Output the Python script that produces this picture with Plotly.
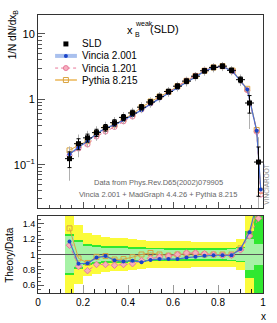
import plotly.graph_objects as go

# ---------------- data ----------------
bin_centers = [0.14, 0.18, 0.22, 0.26, 0.30, 0.34, 0.38, 0.42, 0.46, 0.50, 0.54,
               0.58, 0.62, 0.66, 0.70, 0.74, 0.78, 0.82, 0.86, 0.90, 0.94, 0.98]
bin_width = 0.04
sld = [0.124, 0.21, 0.258, 0.31, 0.37, 0.44, 0.53, 0.62, 0.76, 0.91, 1.1,
       1.32, 1.59, 1.9, 2.26, 2.74, 3.08, 3.22, 2.78, 2.0, 0.88, 0.11]
err_tot = [0.27, 0.19, 0.14, 0.125, 0.115, 0.11, 0.105, 0.10, 0.095, 0.09, 0.09,
           0.085, 0.085, 0.085, 0.08, 0.08, 0.08, 0.08, 0.08, 0.10, 0.30, 0.70]
err_stat = [0.245, 0.165, 0.115, 0.10, 0.09, 0.085, 0.08, 0.075, 0.07, 0.065, 0.065,
            0.06, 0.06, 0.06, 0.06, 0.06, 0.06, 0.06, 0.065, 0.08, 0.20, 0.13]

mc_x = [0.14, 0.18, 0.22, 0.26, 0.30, 0.34, 0.38, 0.42, 0.46, 0.50, 0.54,
        0.58, 0.62, 0.66, 0.70, 0.74, 0.78, 0.82, 0.865, 0.93, 0.972, 0.99]
vincia2 = [0.145, 0.185, 0.228, 0.298, 0.363, 0.407, 0.482, 0.570, 0.684, 0.846, 1.03,
           1.24, 1.49, 1.82, 2.19, 2.70, 3.05, 3.19, 2.67, 1.42, 0.33, 0.042]
vincia1 = [0.139, 0.177, 0.204, 0.270, 0.322, 0.378, 0.461, 0.546, 0.699, 0.865, 1.07,
           1.29, 1.59, 1.94, 2.31, 2.77, 3.08, 3.19, 2.70, 1.38, 0.32, 0.035]
pythia = [0.166, 0.20, 0.23, 0.30, 0.363, 0.411, 0.498, 0.598, 0.76, 0.928, 1.10,
          1.30, 1.59, 1.92, 2.28, 2.74, 3.08, 3.22, 2.75, 1.45, 0.34, 0.040]

ratio_vincia2 = [1.17, 0.88, 0.885, 0.96, 0.98, 0.925, 0.91, 0.92, 0.90, 0.93, 0.94,
                 0.94, 0.94, 0.96, 0.97, 0.985, 0.99, 0.99, 0.99, 1.07, 1.29, 1.75]
ratio_vincia1 = [1.12, 0.845, 0.79, 0.87, 0.87, 0.86, 0.87, 0.88, 0.92, 0.95, 0.97,
                 0.98, 1.0, 1.02, 1.02, 1.01, 1.0, 0.99, 0.99, 1.06, 1.24, 1.47]
ratio_pythia = [1.34, 0.95, 0.89, 0.97, 0.98, 0.935, 0.94, 0.965, 1.0, 1.02, 1.0,
                0.985, 1.0, 1.01, 1.01, 1.0, 1.0, 1.0, 1.0, 1.08, 1.27, 1.6]

series_names = ["SLD", "Vincia 2.001", "Vincia 1.201", "Pythia 8.215"]
ytick_vals = [0.1, 1, 10]
ytick_text = ["10<sup>\u22121</sup>", "1", "10"]

# ---------------- style ----------------
FONT = "Liberation Sans, Arial, sans-serif"
BLUE_L, BLUE_M = "#4a6fd0", "#1a44c8"
PINK = "#e8789a"
ORANGE = "#d9a440"
YELLOW, GREEN, LGREEN = "#fbfb3a", "#30e830", "#a6f2a6"

fig = go.Figure()

# ---- ratio bands ----
for mult, col, src in [(2, YELLOW, err_tot), (1, GREEN, err_tot), (1, LGREEN, err_stat)]:
    fig.add_trace(go.Bar(x=bin_centers, y=[2 * mult * e for e in src],
                         base=[1 - mult * e for e in src], width=bin_width,
                         marker=dict(color=col, line=dict(width=0)),
                         xaxis="x2", yaxis="y2", showlegend=False, hoverinfo="skip"))

# ---- reference line at ratio 1 (drawn as trace so it sits above bands, below curves) ----
fig.add_trace(go.Scatter(x=[0, 1], y=[1, 1], mode="lines",
                         line=dict(color="#555555", width=1),
                         xaxis="x2", yaxis="y2", showlegend=False))

# ---- ratio curves ----
fig.add_trace(go.Scatter(x=bin_centers, y=ratio_pythia, mode="lines+markers",
                         line=dict(color=ORANGE, width=1),
                         marker=dict(symbol="square-open", size=5, color=ORANGE, line=dict(width=1)),
                         xaxis="x2", yaxis="y2", showlegend=False))
fig.add_trace(go.Scatter(x=bin_centers, y=ratio_vincia1, mode="lines+markers",
                         line=dict(color=PINK, width=1, dash="dot"),
                         marker=dict(symbol="diamond", size=5, color="#f6b0b8",
                                     line=dict(width=1, color=PINK)),
                         xaxis="x2", yaxis="y2", showlegend=False))
fig.add_trace(go.Scatter(x=bin_centers, y=ratio_vincia2, mode="lines+markers",
                         line=dict(color=BLUE_L, width=1.2),
                         marker=dict(symbol="circle", size=4, color=BLUE_M),
                         xaxis="x2", yaxis="y2", showlegend=False))

# ---- main panel MC ----
fig.add_trace(go.Scatter(x=mc_x, y=pythia, mode="lines+markers",
                         line=dict(color=ORANGE, width=1),
                         marker=dict(symbol="square-open", size=5, color=ORANGE, line=dict(width=1)),
                         showlegend=False))
fig.add_trace(go.Scatter(x=mc_x, y=vincia1, mode="lines+markers",
                         line=dict(color=PINK, width=1, dash="dot"),
                         marker=dict(symbol="circle-open", size=5, color=PINK, line=dict(width=1)),
                         showlegend=False))
fig.add_trace(go.Scatter(x=mc_x, y=vincia2, mode="lines+markers",
                         line=dict(color=BLUE_L, width=1.2),
                         marker=dict(symbol="circle", size=4, color=BLUE_M),
                         showlegend=False))

# ---- data ----
fig.add_trace(go.Scatter(x=bin_centers, y=sld, mode="lines",
                         line=dict(width=0, color="rgba(0,0,0,0)"),
                         error_y=dict(type="data", array=[2 * e * v for e, v in zip(err_tot, sld)],
                                      color="#b0b0b0", thickness=1, width=0),
                         showlegend=False))
fig.add_trace(go.Scatter(x=bin_centers, y=sld, mode="markers",
                         marker=dict(symbol="square", size=5, color="black"),
                         error_y=dict(type="data", array=[e * v for e, v in zip(err_tot, sld)],
                                      color="black", thickness=1, width=2),
                         error_x=dict(type="constant", value=bin_width / 2,
                                      color="black", thickness=1, width=0),
                         showlegend=False))

# ---- manual legend on overlay axes ----
leg_y = [0.850, 0.788, 0.725, 0.663]
fig.add_trace(go.Scatter(x=[0.124], y=[leg_y[0]], mode="markers",
                         marker=dict(symbol="square", size=5, color="black"),
                         xaxis="x3", yaxis="y3", showlegend=False))
fig.add_trace(go.Scatter(x=[0.076, 0.173], y=[leg_y[1]] * 2, mode="lines",
                         line=dict(color="#a9c0ee", width=4),
                         xaxis="x3", yaxis="y3", showlegend=False))
fig.add_trace(go.Scatter(x=[0.124], y=[leg_y[1]], mode="markers",
                         marker=dict(symbol="circle", size=4, color=BLUE_M),
                         xaxis="x3", yaxis="y3", showlegend=False))
fig.add_trace(go.Scatter(x=[0.076, 0.173], y=[leg_y[2]] * 2, mode="lines",
                         line=dict(color=PINK, width=1, dash="dot"),
                         xaxis="x3", yaxis="y3", showlegend=False))
fig.add_trace(go.Scatter(x=[0.124], y=[leg_y[2]], mode="markers",
                         marker=dict(symbol="circle", size=5, color="#f6b0c0",
                                     line=dict(width=1, color=PINK)),
                         xaxis="x3", yaxis="y3", showlegend=False))
fig.add_trace(go.Scatter(x=[0.076, 0.173], y=[leg_y[3]] * 2, mode="lines",
                         line=dict(color="#f0c880", width=2),
                         xaxis="x3", yaxis="y3", showlegend=False))
fig.add_trace(go.Scatter(x=[0.124], y=[leg_y[3]], mode="markers",
                         marker=dict(symbol="square-open", size=5, color=ORANGE, line=dict(width=1)),
                         xaxis="x3", yaxis="y3", showlegend=False))

annotations = []
for name, yy in zip(series_names, leg_y):
    annotations.append(dict(x=0.187, y=yy, xref="x3", yref="y3", text=name, showarrow=False,
                            xanchor="left", yanchor="middle",
                            font=dict(family=FONT, size=10, color="black")))

# title pieces
annotations += [
    dict(x=0.388, y=0.946, xref="paper", yref="paper", text="x", showarrow=False,
         xanchor="left", yanchor="middle", font=dict(family=FONT, size=11, color="black")),
    dict(x=0.420, y=0.971, xref="paper", yref="paper", text="weak", showarrow=False,
         xanchor="left", yanchor="middle", font=dict(family=FONT, size=7, color="black")),
    dict(x=0.420, y=0.930, xref="paper", yref="paper", text="B", showarrow=False,
         xanchor="left", yanchor="middle", font=dict(family=FONT, size=7, color="black")),
    dict(x=0.490, y=0.950, xref="paper", yref="paper", text="(SLD)", showarrow=False,
         xanchor="left", yanchor="middle", font=dict(family=FONT, size=11, color="black")),
    dict(x=0.534, y=0.396, xref="paper", yref="paper",
         text="Data from Phys.Rev.D65(2002)079905", showarrow=False,
         xanchor="center", yanchor="middle", font=dict(family=FONT, size=7.5, color="#666666")),
    dict(x=0.534, y=0.353, xref="paper", yref="paper",
         text="Vincia 2.001 + MadGraph 4.4.26 + Pythia 8.215", showarrow=False,
         xanchor="center", yanchor="middle", font=dict(family=FONT, size=7.5, color="#666666")),
    dict(x=1.018, y=0.390, xref="paper", yref="paper", text="VINCIAROOT", showarrow=False,
         textangle=-90, xanchor="center", yanchor="middle",
         font=dict(family=FONT, size=6.5, color="#909090")),
    dict(x=-0.11, y=0.928, xref="paper", yref="paper", text="1/N dN/dx<sub>B</sub>",
         showarrow=False, textangle=-90, xanchor="center", yanchor="middle",
         font=dict(family=FONT, size=10, color="black")),
    dict(x=-0.125, y=0.137, xref="paper", yref="paper", text="Theory/Data",
         showarrow=False, textangle=-90, xanchor="center", yanchor="middle",
         font=dict(family=FONT, size=10, color="black")),
    dict(x=1.0, y=-0.058, xref="paper", yref="paper", text="x", showarrow=False,
         xanchor="center", yanchor="top", font=dict(family=FONT, size=10, color="black")),
]

axis_common = dict(showline=True, linecolor="#333333", linewidth=1, mirror=True,
                   showgrid=False, zeroline=False, ticks="inside")

fig.update_layout(
    width=277, height=323,
    margin=dict(l=38, r=14, t=15, b=30),
    paper_bgcolor="white", plot_bgcolor="white",
    barmode="overlay", bargap=0,
    showlegend=False, hovermode=False,
    annotations=annotations,
    xaxis=dict(**axis_common, domain=[0, 1], range=[0, 1], anchor="y",
               showticklabels=False, dtick=0.2, ticklen=6, tickcolor="#555",
               minor=dict(dtick=0.05, ticks="inside", ticklen=3, tickcolor="#555")),
    yaxis=dict(**axis_common, domain=[0.306, 1], type="log",
               range=[-1.66, 1.29], tickvals=ytick_vals, ticktext=ytick_text,
               ticklen=7, tickcolor="#555",
               tickfont=dict(family=FONT, size=11, color="black"),
               minor=dict(ticks="inside", ticklen=4, tickcolor="#555", dtick="D1")),
    xaxis2=dict(**axis_common, domain=[0, 1], range=[0, 1], anchor="y2",
                dtick=0.2, ticklen=8, tickcolor="#999",
                tickfont=dict(family=FONT, size=10, color="black"),
                minor=dict(dtick=0.05, ticks="inside", ticklen=4, tickcolor="#222")),
    yaxis2=dict(**axis_common, domain=[0, 0.277], range=[0.5, 1.5], anchor="x2",
                tickvals=[0.6, 0.8, 1.0, 1.2, 1.4], ticktext=["0.6", "0.8", "1", "1.2", "1.4"],
                ticklen=6, tickcolor="#555",
                tickfont=dict(family=FONT, size=9, color="black"),
                minor=dict(dtick=0.05, ticks="inside", ticklen=3, tickcolor="#555")),
    xaxis3=dict(domain=[0, 1], range=[0, 1], anchor="y3", visible=False, overlaying="x"),
    yaxis3=dict(domain=[0.306, 1], range=[0, 1], anchor="x3", visible=False, overlaying="y"),
)

fig.write_html("out.html", config={"displayModeBar": False, "staticPlot": True},
               post_script="document.body.style.margin='0';document.body.style.overflow='hidden';")
